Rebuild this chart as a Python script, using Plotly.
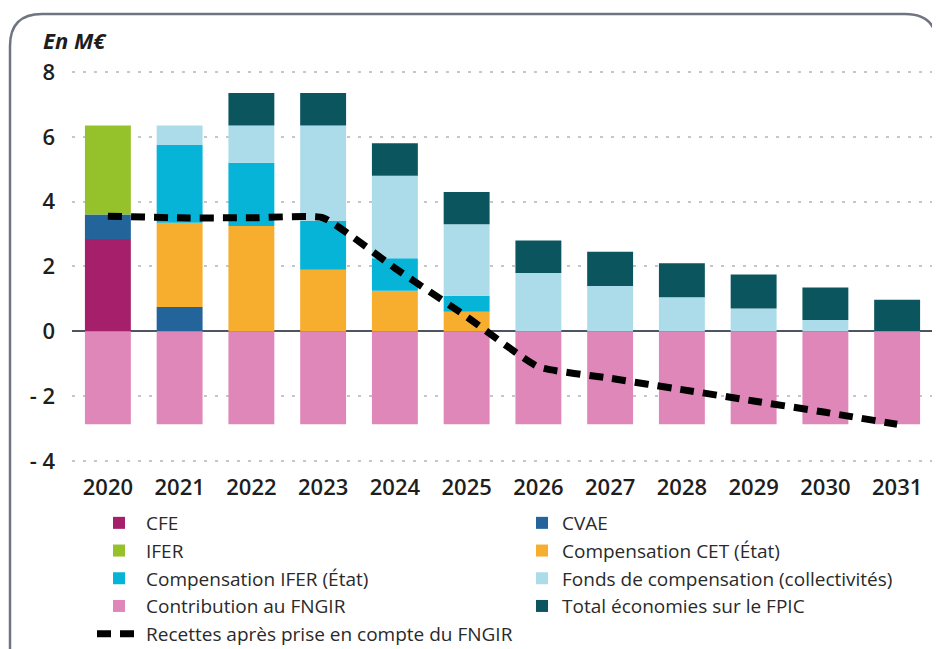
import plotly.graph_objects as go

years = ["2020", "2021", "2022", "2023", "2024", "2025", "2026", "2027", "2028", "2029", "2030", "2031"]

cfe = [2.85, 0, 0, 0, 0, 0, 0, 0, 0, 0, 0, 0]
cvae = [0.75, 0.75, 0, 0, 0, 0, 0, 0, 0, 0, 0, 0]
ifer = [2.75, 0, 0, 0, 0, 0, 0, 0, 0, 0, 0, 0]
comp_cet = [0, 2.6, 3.25, 1.9, 1.25, 0.6, 0, 0, 0, 0, 0, 0]
comp_ifer = [0, 2.4, 1.95, 1.5, 1.0, 0.5, 0, 0, 0, 0, 0, 0]
fonds = [0, 0.6, 1.15, 2.95, 2.55, 2.2, 1.8, 1.4, 1.05, 0.7, 0.35, 0]
fpic = [0, 0, 1.0, 1.0, 1.0, 1.0, 1.0, 1.05, 1.05, 1.05, 1.0, 0.97]
fngir = [-2.87, -2.87, -2.87, -2.87, -2.87, -2.87, -2.87, -2.87, -2.87, -2.87, -2.87, -2.87]
recettes = [3.55, 3.5, 3.5, 3.5, 1.95, 0.45, -1.1, -1.45, -1.8, -2.15, -2.5, -2.87]

y_tickvals = [8, 6, 4, 2, 0, -2, -4]
y_ticktext = ["8", "6", "4", "2", "0", "- 2", "- 4"]

FONT = "Open Sans"
TXT = "#1e1e1e"

# The page body has an 8px margin: figure is 932x641 so the screen shows 940x649
OFF = 8
W, H = 932, 641
# plot area on screen: x 72..933, y 60..470
L, R, T, B = 72 - OFF, W - (933 - OFF), 60 - OFF, H - (470 - OFF)
PW, PH = W - L - R, H - T - B


def px(x):
    """screen x pixel -> paper coordinate"""
    return (x - OFF - L) / PW


def py(y):
    """screen y pixel -> paper coordinate"""
    return (H - B - (y - OFF)) / PH


fig = go.Figure()

bars = [
    ("CFE", cfe, "#a61f6a", "legend", 1),
    ("CVAE", cvae, "#23649b", "legend2", 1),
    ("IFER", ifer, "#95c12b", "legend", 2),
    ("Compensation CET (État)", comp_cet, "#f7ae2e", "legend2", 2),
    ("Compensation IFER (État)", comp_ifer, "#06b4d8", "legend", 3),
    ("Fonds de compensation (collectivités)", fonds, "#acdce9", "legend2", 3),
    ("Total économies sur le FPIC", fpic, "#0b555e", "legend2", 4),
    ("Contribution au FNGIR", fngir, "#df87b8", "legend", 4),
]

for name, vals, color, lg, rank in bars:
    fig.add_trace(go.Bar(
        x=years, y=vals, name=name, marker=dict(color=color, line=dict(width=0)),
        width=0.64, legend=lg, legendrank=rank,
    ))

fig.add_trace(go.Scatter(
    x=years, y=recettes, name="Recettes après prise en compte du FNGIR",
    mode="lines", line=dict(color="black", width=7, dash="14px,9px", shape="spline", smoothing=0.4),
    legend="legend", legendrank=5,
))

LEG_FONT = dict(family=FONT, size=19, color="#2a2a2a")

fig.update_layout(
    width=W, height=H,
    margin=dict(l=L, r=R, t=T, b=B, pad=0, autoexpand=False),
    paper_bgcolor="white", plot_bgcolor="white",
    barmode="relative",
    font=dict(family=FONT, color=TXT),
    showlegend=True,
    legend=dict(
        x=px(92), y=py(504), xanchor="left", yanchor="top",
        orientation="v", traceorder="normal", tracegroupgap=0, itemwidth=44,
        font=LEG_FONT, bgcolor="rgba(0,0,0,0)",
    ),
    legend2=dict(
        x=px(522), y=py(504), xanchor="left", yanchor="top",
        orientation="v", traceorder="normal", tracegroupgap=0,
        font=LEG_FONT, bgcolor="rgba(0,0,0,0)",
    ),
    xaxis=dict(
        type="category", range=[-0.5, 11.5],
        showgrid=False, showline=False, ticks="",
        tickfont=dict(family=FONT, size=22, color=TXT, weight=600),
        ticklabelstandoff=2,
    ),
    yaxis=dict(
        range=[-4.28, 8.37], tickvals=y_tickvals, ticktext=y_ticktext,
        showgrid=True, gridcolor="#c4c6cc", gridwidth=1.5, griddash="3px,8px",
        zeroline=True, zerolinecolor="#4d5562", zerolinewidth=1.5,
        showline=False, ticks="",
        tickfont=dict(family=FONT, size=22, color=TXT, weight=600),
        ticklabelstandoff=16,
    ),
)

# Rounded frame around the chart
x0, y0, x1, y1, r = 10, 14, 937, 700, 32
path = (
    f"M {px(x0)},{py(y1)} L {px(x0)},{py(y0 + r)} "
    f"Q {px(x0)},{py(y0)} {px(x0 + r)},{py(y0)} "
    f"L {px(x1 - r)},{py(y0)} Q {px(x1)},{py(y0)} {px(x1)},{py(y0 + r)} "
    f"L {px(x1)},{py(y1)}"
)
fig.add_shape(type="path", path=path, xref="paper", yref="paper",
              line=dict(color="#6f7580", width=2.5), layer="below")

fig.add_annotation(
    text="<i><b>En M€</b></i>", x=px(41), y=py(40), xref="paper", yref="paper",
    xanchor="left", yanchor="middle", showarrow=False,
    font=dict(family=FONT, size=22, color=TXT),
)

fig.write_html("out.html")
